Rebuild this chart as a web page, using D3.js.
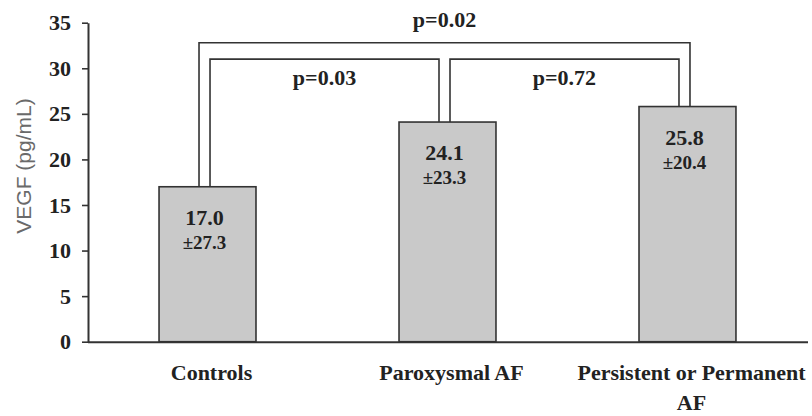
<!DOCTYPE html>
<html>
<head>
<meta charset="utf-8">
<script src="https://cdn.jsdelivr.net/npm/d3@7"></script>
<style>
  body { margin: 0; background: #fff; }
</style>
</head>
<body>
<div id="viz"></div>
<script>
// chart data
var categories = ["Controls", "Paroxysmal AF", "Persistent or Permanent AF"];
var catLines = [["Controls"], ["Paroxysmal AF"], ["Persistent or Permanent", "AF"]];
var means = [17.0, 24.1, 25.8];
var sds = [27.3, 23.3, 20.4];
var yTicks = [0, 5, 10, 15, 20, 25, 30, 35];

// p-value brackets: from / to category index, bracket height (in pg/mL), label
var pFrom = [0, 0, 1];
var pTo = [1, 2, 2];
var pLevel = [31.0, 32.8, 31.0];
var pLabels = ["p=0.03", "p=0.02", "p=0.72"];

var serif = "'Liberation Serif', 'Times New Roman', Times, serif";
var width = 812, height = 416;
var x0 = 88, x1 = 807, yTop = 22.7, yBottom = 341.7;

var svg = d3.select("#viz").append("svg").attr("width", width).attr("height", height);

var x = d3.scaleBand()
    .domain(categories)
    .range([x0, x1])
    .paddingInner(0.596)
    .paddingOuter(0.296);

var y = d3.scaleLinear()
    .domain([0, 35])
    .range([yBottom, yTop]);

function center(i) {
    return x(categories[i]) + x.bandwidth() / 2 - 3;
}

function label(sel, size) {
    return sel.style("font-family", serif)
        .style("font-weight", "bold")
        .style("font-size", size + "px")
        .attr("fill", "#222");
}

// bars
svg.append("g").selectAll("rect")
    .data(means)
    .enter()
    .append("rect")
    .attr("x", function (d, i) { return x(categories[i]); })
    .attr("y", function (d) { return y(d); })
    .attr("width", x.bandwidth())
    .attr("height", function (d) { return y(0) - y(d); })
    .style("fill", "#c9c9c9")
    .attr("stroke", "#333")
    .attr("stroke-width", 1.6);

// y axis
var yAxis = svg.append("g")
    .attr("transform", "translate(" + x0 + ",0)")
    .call(d3.axisLeft(y).tickValues(yTicks).tickSize(6).tickSizeOuter(0).tickPadding(11));
yAxis.select(".domain").attr("stroke", "#333").attr("stroke-width", 2);
yAxis.selectAll(".tick line").attr("stroke", "#333").attr("stroke-width", 1.6);
label(yAxis.selectAll(".tick text"), 22);

// x axis line
svg.append("line")
    .attr("x1", x0).attr("x2", 808)
    .attr("y1", y(0) + 0.5).attr("y2", y(0) + 0.5)
    .attr("stroke", "#333").attr("stroke-width", 2);

// y title
svg.append("text")
    .attr("transform", "translate(31,166) rotate(-90)")
    .attr("text-anchor", "middle")
    .style("font-family", "Arial, 'Liberation Sans', sans-serif")
    .style("font-size", "21px")
    .attr("fill", "#6a6a6a")
    .text("VEGF (pg/mL)");

// category labels
catLines.forEach(function (lines, i) {
    lines.forEach(function (l, k) {
        label(svg.append("text"), 22)
            .attr("x", center(i) + 7)
            .attr("y", 380 + k * 30)
            .attr("text-anchor", "middle")
            .text(l);
    });
});

// values inside bars
label(svg.append("g").selectAll("text")
    .data(means)
    .enter()
    .append("text"), 22)
    .attr("x", function (d, i) { return center(i); })
    .attr("y", function (d) { return y(d) + 38; })
    .attr("text-anchor", "middle")
    .text(function (d) { return d.toFixed(1); });

label(svg.append("g").selectAll("text")
    .data(sds)
    .enter()
    .append("text"), 19)
    .attr("x", function (d, i) { return center(i); })
    .attr("y", function (d, i) { return y(means[i]) + 62; })
    .attr("text-anchor", "middle")
    .text(function (d) { return "\u00b1" + d.toFixed(1); });

// brackets: the outer one wraps round the two inner ones
var gap = 5.5;
pLabels.forEach(function (lab, k) {
    var a = center(pFrom[k]), b = center(pTo[k]);
    var outer = pLevel[k] > 32;
    var xa = outer ? a - gap : a + gap;
    var xb = outer ? b + gap : b - gap;
    var yl = y(pLevel[k]);
    svg.append("path")
        .attr("d", "M" + xa + "," + y(means[pFrom[k]]) + "V" + yl + "H" + xb + "V" + y(means[pTo[k]]))
        .attr("fill", "none")
        .attr("stroke", "#333")
        .attr("stroke-width", 1.6);
    label(svg.append("text"), 22)
        .attr("x", (xa + xb) / 2)
        .attr("y", outer ? yl - 16 : yl + 26)
        .attr("text-anchor", "middle")
        .text(lab);
});
</script>
</body>
</html>
